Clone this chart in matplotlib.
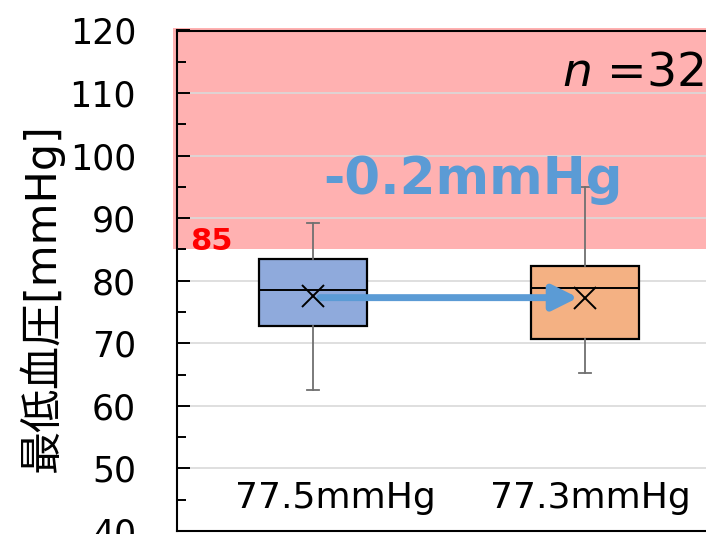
import matplotlib
matplotlib.use("Agg")
import matplotlib.pyplot as plt
from matplotlib.ticker import MultipleLocator

# Summary statistics of diastolic pressure (before / after)
groups = ["before", "after"]
q1 = [72.8, 70.7]
medians = [78.6, 78.8]
q3 = [83.5, 82.4]
whisker_low = [62.5, 65.3]
whisker_high = [89.2, 95.0]
means = [77.5, 77.3]
n_count = 32
threshold = 85
y_ticks = [40, 50, 60, 70, 80, 90, 100, 110, 120]

W, H = 706, 534
fig = plt.figure(figsize=(W / 100, H / 100), dpi=100)
ax = fig.add_axes([177 / W, 1 - 531 / H, 544 / W, (531 - 30.5) / H])

ax.set_xlim(0.5, 2.5)
ax.set_ylim(40, 120)

# Hypertension zone above the threshold
ax.axhspan(threshold, 120.4, xmin=-0.008, xmax=1, color="#FFB1B1",
           zorder=0.2, clip_on=False, lw=0)

# Axis styling
ax.set_yticks(y_ticks)
ax.yaxis.set_minor_locator(MultipleLocator(5))
ax.tick_params(axis="y", which="major", direction="in", length=9.5, width=1.4,
               labelsize=25, pad=29.5, colors="black")
ax.tick_params(axis="y", which="minor", direction="in", length=6.5, width=1.4)
ax.yaxis.grid(True, color="#d9d9d9", lw=1.2)
ax.set_axisbelow(True)
for side in ["left", "top", "bottom", "right"]:
    ax.spines[side].set_color("black")
    ax.spines[side].set_linewidth(1.5)

stats = []
for i in range(len(groups)):
    stats.append(dict(med=medians[i], q1=q1[i], q3=q3[i],
                      whislo=whisker_low[i], whishi=whisker_high[i],
                      mean=means[i], fliers=[], label=groups[i]))

bp = ax.bxp(stats, positions=[1, 2], widths=0.4, patch_artist=True,
            showmeans=True, showfliers=False, capwidths=0.045,
            boxprops=dict(edgecolor="black", linewidth=1.6),
            whiskerprops=dict(color="#707070", linewidth=1.3),
            capprops=dict(color="#707070", linewidth=1.3),
            medianprops=dict(color="black", linewidth=1.4),
            meanprops=dict(marker="x", markeredgecolor="black",
                           markersize=16, markeredgewidth=1.4))
for patch, fc in zip(bp["boxes"], ["#8FAADC", "#F4B183"]):
    patch.set_facecolor(fc)
for k in ["boxes", "whiskers", "caps", "medians"]:
    for art in bp[k]:
        art.set_zorder(2)
for art in bp["means"]:
    art.set_zorder(4)
ax.set_xticks([])
ax.set_xlim(0.5, 2.5)

# Arrow showing the change in mean, drawn level with the later mean
ax.annotate("", xy=(2, means[1]), xytext=(1, means[1]),
            arrowprops=dict(arrowstyle="-|>", lw=5, color="#5B9BD5",
                            mutation_scale=38, shrinkA=5, shrinkB=5),
            zorder=3)

delta = means[1] - means[0]
ax.text(1.588, 93.8, f"{delta:.1f}mmHg", ha="center", va="baseline",
        fontsize=37, fontweight="bold", color="#5B9BD5", zorder=5)

ax.text(2.4375, 111.2, r"$\mathit{n}$ =" + str(n_count), ha="right",
        va="baseline", fontsize=34, color="black", zorder=5)

ax.text(0.548, 84.9, str(threshold), ha="left", va="baseline",
        fontsize=22, fontweight="bold", color="#FF0000", zorder=5)

for x, m in zip([1.081, 2.018], means):
    ax.text(x, 43.6, f"{m:.1f}mmHg", ha="center", va="baseline",
            fontsize=26, color="black", zorder=5)

fig.text(41 / W, 1 - 297.5 / H, "最低血圧[mmHg]", rotation=90,
         ha="center", va="center", fontsize=31,
         family=["DejaVu Sans", "Noto Sans CJK JP"])

fig.savefig("out.png", dpi=100)
